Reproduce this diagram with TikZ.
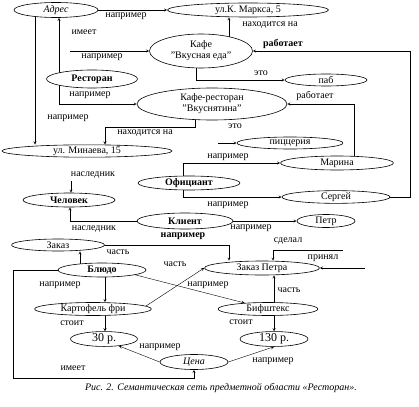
\documentclass[tikz,border=0pt]{standalone}
\usepackage{fontspec}
\setmainfont{Liberation Serif}
\usetikzlibrary{shapes.geometric,backgrounds}
\begin{document}
\begin{tikzpicture}[x=1pt,y=-1pt,line join=round,line cap=round,>=stealth,line width=0.6pt]
	\tikzset{every node/.style={font=\fontsize{10}{11}\selectfont},
		concept/.style={ellipse,draw,fill=white,inner sep=0pt,align=center},
		lbl/.style={inner sep=0pt}}
	\useasboundingbox (0,0) rectangle (419,406);
	% concepts
	\node[concept,minimum width=84,minimum height=15] (adr) at (56,10) {\itshape Адрес};
	\node[concept,minimum width=161,minimum height=14] (marks) at (248,10) {ул.К. Маркса, 5};
	\node[concept,minimum width=103,minimum height=34] (cafe) at (201,51) {Кафе\\"Вкусная еда"};
	\node[concept,minimum width=91,minimum height=18] (rest) at (92,79) {\bfseries Ресторан};
	\node[concept,minimum width=82,minimum height=12] (pub) at (326,80) {паб};
	\node[concept,minimum width=150,minimum height=32] (cr) at (212,104) {Кафе-ресторан\\"Вкуснятина"};
	\node[concept,minimum width=106,minimum height=12] (pizza) at (290,143) {пиццерия};
	\node[concept,minimum width=170,minimum height=12] (minaev) at (87,151) {ул. Минаева, 15};
	\node[concept,minimum width=113,minimum height=14] (marina) at (337,163) {Марина};
	\node[concept,minimum width=102,minimum height=14] (waiter) at (189,183) {\bfseries Официант};
	\node[concept,minimum width=108,minimum height=12] (sergey) at (336,197) {Сергей};
	\node[concept,minimum width=92,minimum height=14] (man) at (69,200) {\bfseries Человек};
	\node[concept,minimum width=96,minimum height=16] (client) at (185,221) {\bfseries Клиент};
	\node[concept,minimum width=58,minimum height=13] (petr) at (326,221) {Петр};
	\node[concept,minimum width=93,minimum height=12] (order) at (58,245) {Заказ};
	\node[concept,minimum width=115,minimum height=14] (porder) at (262,268) {Заказ Петра};
	\node[concept,minimum width=88,minimum height=14] (dish) at (102,270) {\bfseries Блюдо};
	\node[concept,minimum width=117,minimum height=13] (fries) at (93,309) {Картофель фри};
	\node[concept,minimum width=100,minimum height=13] (steak) at (268,309) {Бифштекс};
	\node[concept,minimum width=67,minimum height=13,font=\fontsize{12}{13}\selectfont] (p30) at (104,339) {30 р.};
	\node[concept,minimum width=68,minimum height=13,font=\fontsize{12}{13}\selectfont] (p130) at (274,339) {130 р.};
	\node[concept,minimum width=68,minimum height=15] (price) at (194,362) {\itshape Цена};
	% free ends
	\coordinate (ex) at (70,51);
	\coordinate (pz) at (218,143);
	\coordinate (nsl) at (71,181);
	\coordinate (did) at (343,250);
	\coordinate (took) at (365,268);
	% relations
	\begin{scope}[on background layer]
		\draw[->] (adr.east)--(marks.west);
		\draw[->] (59,0 |- rest)--(59,0 |- adr.south);
		\draw[->] (59,0 |- rest) |- (cr.west);
		\draw[->] (ex)--(cafe.west);
		\draw[->] (229,0 |- cafe)--(229,0 |- marks.south);
		\draw[->] (sergey.east) -| (410,0 |- cafe)--(cafe.east);
		\draw[->] (196,0 |- cafe) |- (pub.west);
		\draw[->] (35,0 |- adr)--(35,0 |- minaev.north);
		\draw[->] (195,0 |- cr)--(195,127) -| (105,0 |- minaev.north);
		\draw[->] (354,0 |- marina) |- (cr.east);
		\draw[->] (pz)--(pizza.west);
		\draw[->] (183,0 |- waiter) |- (marina.west);
		\draw[->] (183,0 |- waiter) |- (sergey.west);
		\draw[->] (nsl)--(nsl |- man.north);
		\draw[->] (client.center) -| (70,0 |- man.south);
		\draw[->] (client.east)--(petr.west);
		\draw[->] (order.center) -| (229,0 |- porder.north);
		\draw[->] (80,0 |- dish)--(80,0 |- order.south);
		\draw[->] ([shift={(53,-3)}]fries.center)--(porder.west);
		\draw[->] ([shift={(30,4)}]dish.center)--(steak);
		\draw[->] (105,0 |- dish)--(105,0 |- fries.north);
		\draw[->] (105,0 |- fries)--(105,0 |- p30.north);
		\draw[->] (dish.center) -| (13,378) -| (price.south);
		\draw[->] (price.west)--(p30.-25);
		\draw[->] (price.east)--(p130.south);
		\draw[->] (274,0 |- steak)--(274,0 |- p130.north);
		\draw[->] (274,0 |- steak)--(274,0 |- porder.south);
		\draw[->] (did) -| (273,0 |- porder.north);
		\draw[->] (took)--(porder.east);
	\end{scope}
	% relation labels
	\foreach \x/\y/\t [count=\i] in {126/16/например, 84/32/имеет, 102/57/например, 270/25/находится на,
		261/73/это, 90/95/например, 315/96/работает, 68/118/например, 145/133/находится на,
		235/126/это, 228/157/например, 93/175/наследник, 228/205/например, 94/229/наследник,
		251/228/например, 118/252/часть, 175/264/часть, 288/241/сделал, 323/258/принял,
		60/285/например, 208/285/например, 289/290/часть, 72/323/стоит, 241/322/стоит,
		160/347/например, 273/361/например, 73/368/имеет}
	\node[lbl] (rel\i) at (\x,\y) {\t};
	\node[lbl,font=\fontsize{10}{11}\bfseries] (works) at (283,44) {работает};
	\node[lbl,font=\fontsize{10}{11}\bfseries] (eg) at (183,236) {например};
	\node[lbl] (caption) at (221,388) {\itshape Рис. 2. Семантическая сеть предметной области «Ресторан».};
\end{tikzpicture}
\end{document}
